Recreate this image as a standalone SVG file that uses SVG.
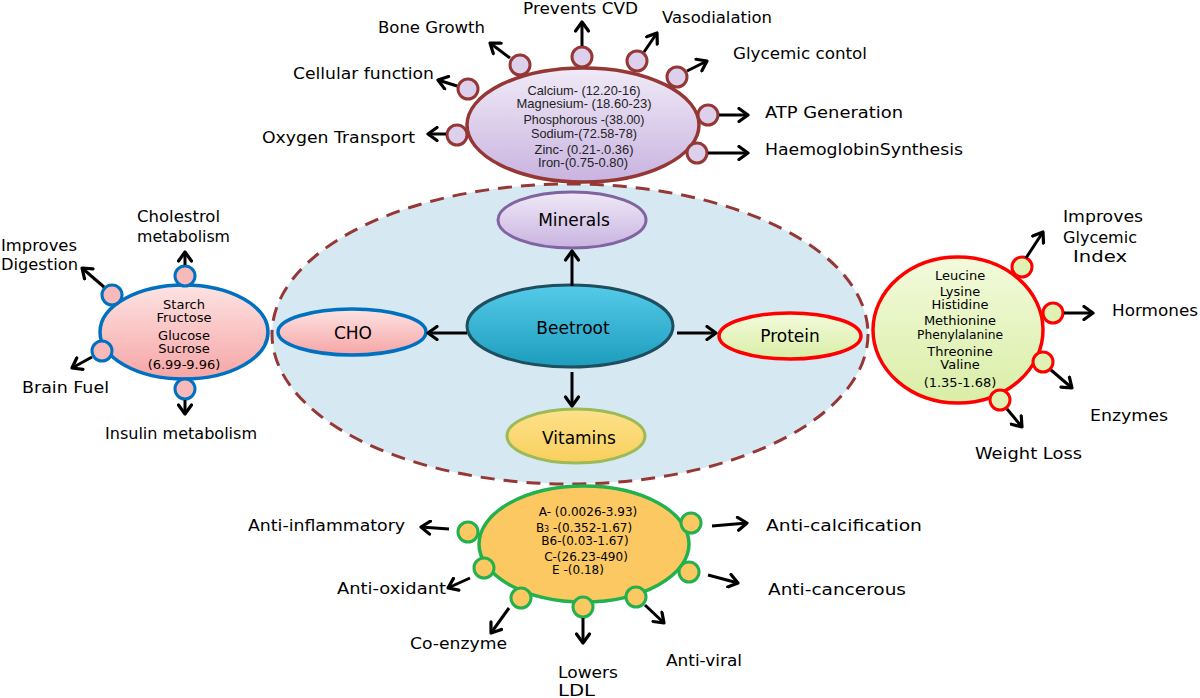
<svg xmlns="http://www.w3.org/2000/svg" width="1200" height="698" viewBox="0 0 1200 698">
<defs>
<marker id="ah" markerUnits="userSpaceOnUse" markerWidth="16" markerHeight="16" refX="11" refY="8" orient="auto"><path d="M2,1.5 L11,8 L2,14.5" fill="none" stroke="#000" stroke-width="3.2" stroke-linecap="round" stroke-linejoin="round"/></marker>
<linearGradient id="gMin" x1="0" y1="0" x2="0" y2="1"><stop offset="0" stop-color="#f0eaf7"/><stop offset="1" stop-color="#c9b3e0"/></linearGradient>
<linearGradient id="gCho" x1="0" y1="0" x2="0" y2="1"><stop offset="0" stop-color="#fde3e3"/><stop offset="1" stop-color="#f6a5a5"/></linearGradient>
<linearGradient id="gPro" x1="0" y1="0" x2="0" y2="1"><stop offset="0" stop-color="#f3fadc"/><stop offset="1" stop-color="#d9eea6"/></linearGradient>
<linearGradient id="gBeet" x1="0" y1="0" x2="0" y2="1"><stop offset="0" stop-color="#55cbe9"/><stop offset="1" stop-color="#1d9cbd"/></linearGradient>
<linearGradient id="gVit" x1="0" y1="0" x2="0" y2="1"><stop offset="0" stop-color="#fde28a"/><stop offset="1" stop-color="#f9cf5c"/></linearGradient>
</defs>
<style>
.lbl{font-family:"DejaVu Sans",sans-serif;font-size:16px;fill:#000}
.in{font-family:"DejaVu Sans",sans-serif;font-size:13px;fill:#000;text-anchor:middle}
.vt{font-family:"DejaVu Sans",sans-serif;font-size:12px;fill:#000;text-anchor:middle}
.mn{font-family:"Liberation Sans",sans-serif;font-size:13px;fill:#222;text-anchor:middle}
.nd{font-family:"DejaVu Sans",sans-serif;font-size:17px;fill:#000;text-anchor:middle}
.arr{stroke:#000;stroke-width:3;fill:none;marker-end:url(#ah)}
.cm{fill:#dcd0ec;stroke:#953735;stroke-width:3}
.cc{fill:#f7b9b9;stroke:#0070c0;stroke-width:3}
.cp{fill:#dff2b4;stroke:#ff0000;stroke-width:3}
.cv{fill:#fbc862;stroke:#22b14c;stroke-width:3}
</style>

<g id="outer">
<ellipse cx="570" cy="334" rx="298" ry="150" fill="#d6e8f2" stroke="#953735" stroke-width="3" stroke-dasharray="14 9"/>
</g>

<g id="minerals-detail">
<ellipse cx="583" cy="125" rx="116" ry="57" fill="url(#gMin)" stroke="#953735" stroke-width="3.5"/>
<text class="mn" x="584" y="95" textLength="113" lengthAdjust="spacingAndGlyphs">Calcium- (12.20-16)</text>
<text class="mn" x="584" y="108" textLength="135" lengthAdjust="spacingAndGlyphs">Magnesium- (18.60-23)</text>
<text class="mn" x="584" y="124" textLength="121" lengthAdjust="spacingAndGlyphs">Phosphorous -(38.00)</text>
<text class="mn" x="584" y="138" textLength="106" lengthAdjust="spacingAndGlyphs">Sodium-(72.58-78)</text>
<text class="mn" x="584" y="154" textLength="99" lengthAdjust="spacingAndGlyphs">Zinc- (0.21-.0.36)</text>
<text class="mn" x="583" y="167" textLength="90" lengthAdjust="spacingAndGlyphs">Iron-(0.75-0.80)</text>
<circle class="cm" cx="457" cy="135" r="10"/>
<circle class="cm" cx="468" cy="89" r="10"/>
<circle class="cm" cx="520" cy="65" r="10"/>
<circle class="cm" cx="582" cy="57" r="10"/>
<circle class="cm" cx="637" cy="61" r="10"/>
<circle class="cm" cx="677" cy="77" r="10"/>
<circle class="cm" cx="708" cy="115" r="10"/>
<circle class="cm" cx="697" cy="153" r="10"/>
</g>

<g id="cho-detail">
<ellipse cx="184" cy="332" rx="84" ry="47" fill="url(#gCho)" stroke="#0070c0" stroke-width="3.5"/>
<text class="in" x="184" y="309">Starch</text>
<text class="in" x="184" y="322">Fructose</text>
<text class="in" x="184" y="340">Glucose</text>
<text class="in" x="184" y="353">Sucrose</text>
<text class="in" x="184" y="369">(6.99-9.96)</text>
<circle class="cc" cx="112" cy="295" r="10"/>
<circle class="cc" cx="185" cy="276" r="10"/>
<circle class="cc" cx="102" cy="351" r="10"/>
<circle class="cc" cx="185" cy="389" r="10"/>
</g>

<g id="protein-detail">
<ellipse cx="958" cy="330" rx="85" ry="73" fill="url(#gPro)" stroke="#ff0000" stroke-width="3.5"/>
<text class="in" x="960" y="280">Leucine</text>
<text class="in" x="960" y="296">Lysine</text>
<text class="in" x="960" y="309">Histidine</text>
<text class="in" x="960" y="325">Methionine</text>
<text class="in" x="960" y="339" textLength="86" lengthAdjust="spacingAndGlyphs">Phenylalanine</text>
<text class="in" x="960" y="356">Threonine</text>
<text class="in" x="960" y="369">Valine</text>
<text class="in" x="960" y="387">(1.35-1.68)</text>
<circle class="cp" cx="1022" cy="267" r="10"/>
<circle class="cp" cx="1053" cy="313" r="10"/>
<circle class="cp" cx="1043" cy="362" r="10"/>
<circle class="cp" cx="1000" cy="400" r="10"/>
</g>

<g id="vitamins-detail">
<ellipse cx="584" cy="544" rx="105" ry="58" fill="#fbc862" stroke="#22b14c" stroke-width="3.5"/>
<text class="vt" x="588" y="516">A- (0.0026-3.93)</text>
<text class="vt" x="584" y="532">B<tspan font-size="8">3</tspan> -(0.352-1.67)</text>
<text class="vt" x="585" y="545">B6-(0.03-1.67)</text>
<text class="vt" x="586" y="561">C-(26.23-490)</text>
<text class="vt" x="578" y="574">E -(0.18)</text>
<circle class="cv" cx="468" cy="532" r="10"/>
<circle class="cv" cx="484" cy="568" r="10"/>
<circle class="cv" cx="521" cy="598" r="10"/>
<circle class="cv" cx="583" cy="607" r="10"/>
<circle class="cv" cx="636" cy="597" r="10"/>
<circle class="cv" cx="689" cy="572" r="10"/>
<circle class="cv" cx="691" cy="523" r="10"/>
</g>

<g id="minerals">
<ellipse cx="572" cy="220" rx="74" ry="28" fill="url(#gMin)" stroke="#8064a2" stroke-width="3"/>
<text class="nd" x="574" y="226">Minerals</text>
</g>
<g id="beetroot">
<ellipse cx="570" cy="326" rx="103" ry="41" fill="url(#gBeet)" stroke="#1f4e5f" stroke-width="3"/>
<text class="nd" x="573" y="334" font-size="19">Beetroot</text>
</g>
<g id="cho">
<ellipse cx="352" cy="332" rx="74" ry="23" fill="url(#gCho)" stroke="#0070c0" stroke-width="3.5"/>
<text class="nd" x="353" y="339">CHO</text>
</g>
<g id="protein">
<ellipse cx="790" cy="336" rx="71" ry="23" fill="url(#gPro)" stroke="#ff0000" stroke-width="3.5"/>
<text class="nd" x="790" y="342">Protein</text>
</g>
<g id="vitamins">
<ellipse cx="576" cy="436" rx="69" ry="27" fill="url(#gVit)" stroke="#9bbb59" stroke-width="3"/>
<text class="nd" x="579" y="444">Vitamins</text>
</g>

<g id="connectors">
<line class="arr" x1="572" y1="286" x2="572" y2="251"/>
<line class="arr" x1="467" y1="333" x2="428" y2="333"/>
<line class="arr" x1="677" y1="333" x2="716" y2="333"/>
<line class="arr" x1="572" y1="372" x2="572" y2="406"/>

<line class="arr" x1="446" y1="134" x2="428" y2="134"/>
<line class="arr" x1="457" y1="86" x2="438" y2="80"/>
<line class="arr" x1="510" y1="58" x2="490" y2="43"/>
<line class="arr" x1="582" y1="46" x2="582" y2="22"/>
<line class="arr" x1="644" y1="52" x2="657" y2="33"/>
<line class="arr" x1="687" y1="71" x2="707" y2="61"/>
<line class="arr" x1="719" y1="115" x2="748" y2="115"/>
<line class="arr" x1="708" y1="153" x2="748" y2="153"/>

<line class="arr" x1="104" y1="287" x2="82" y2="268"/>
<line class="arr" x1="185" y1="265" x2="185" y2="252"/>
<line class="arr" x1="92" y1="357" x2="72" y2="368"/>
<line class="arr" x1="185" y1="400" x2="185" y2="414"/>

<line class="arr" x1="1026" y1="258" x2="1043" y2="232"/>
<line class="arr" x1="1064" y1="313" x2="1093" y2="313"/>
<line class="arr" x1="1051" y1="370" x2="1072" y2="388"/>
<line class="arr" x1="1007" y1="409" x2="1022" y2="427"/>

<line class="arr" x1="449" y1="529" x2="421" y2="527"/>
<line class="arr" x1="470" y1="578" x2="448" y2="588"/>
<line class="arr" x1="509" y1="608" x2="491" y2="633"/>
<line class="arr" x1="583" y1="618" x2="583" y2="643"/>
<line class="arr" x1="645" y1="605" x2="664" y2="623"/>
<line class="arr" x1="708" y1="575" x2="738" y2="583"/>
<line class="arr" x1="712" y1="526" x2="747" y2="523"/>
</g>

<g id="labels">
<text class="lbl" x="523" y="14" textLength="115" lengthAdjust="spacingAndGlyphs">Prevents CVD</text>
<text class="lbl" x="378" y="33" textLength="107" lengthAdjust="spacingAndGlyphs">Bone Growth</text>
<text class="lbl" x="662" y="23" textLength="110" lengthAdjust="spacingAndGlyphs">Vasodialation</text>
<text class="lbl" x="733" y="59" textLength="134" lengthAdjust="spacingAndGlyphs">Glycemic contol</text>
<text class="lbl" x="293" y="79" textLength="141" lengthAdjust="spacingAndGlyphs">Cellular function</text>
<text class="lbl" x="765" y="118" textLength="138" lengthAdjust="spacingAndGlyphs">ATP Generation</text>
<text class="lbl" x="262" y="143" textLength="153" lengthAdjust="spacingAndGlyphs">Oxygen Transport</text>
<text class="lbl" x="765" y="155" textLength="198" lengthAdjust="spacingAndGlyphs">HaemoglobinSynthesis</text>

<text class="lbl" x="137" y="222" textLength="83" lengthAdjust="spacingAndGlyphs">Cholestrol</text>
<text class="lbl" x="137" y="242" textLength="93" lengthAdjust="spacingAndGlyphs">metabolism</text>
<text class="lbl" x="1" y="251" textLength="76" lengthAdjust="spacingAndGlyphs">Improves</text>
<text class="lbl" x="1" y="270" textLength="77" lengthAdjust="spacingAndGlyphs">Digestion</text>
<text class="lbl" x="22" y="393" textLength="87" lengthAdjust="spacingAndGlyphs">Brain Fuel</text>
<text class="lbl" x="105" y="439" textLength="152" lengthAdjust="spacingAndGlyphs">Insulin metabolism</text>

<text class="lbl" x="1063" y="222" textLength="80" lengthAdjust="spacingAndGlyphs">Improves</text>
<text class="lbl" x="1063" y="243" textLength="74" lengthAdjust="spacingAndGlyphs">Glycemic</text>
<text class="lbl" x="1073" y="262" textLength="54" lengthAdjust="spacingAndGlyphs">Index</text>
<text class="lbl" x="1112" y="316" textLength="86" lengthAdjust="spacingAndGlyphs">Hormones</text>
<text class="lbl" x="1090" y="421" textLength="78" lengthAdjust="spacingAndGlyphs">Enzymes</text>
<text class="lbl" x="975" y="459" textLength="107" lengthAdjust="spacingAndGlyphs">Weight Loss</text>

<text class="lbl" x="248" y="531" textLength="157" lengthAdjust="spacingAndGlyphs">Anti-inflammatory</text>
<text class="lbl" x="337" y="594" textLength="109" lengthAdjust="spacingAndGlyphs">Anti-oxidant</text>
<text class="lbl" x="410" y="649" textLength="97" lengthAdjust="spacingAndGlyphs">Co-enzyme</text>
<text class="lbl" x="558" y="678" textLength="60" lengthAdjust="spacingAndGlyphs">Lowers</text>
<text class="lbl" x="558" y="696" textLength="37" lengthAdjust="spacingAndGlyphs">LDL</text>
<text class="lbl" x="666" y="666" textLength="76" lengthAdjust="spacingAndGlyphs">Anti-viral</text>
<text class="lbl" x="768" y="595" textLength="138" lengthAdjust="spacingAndGlyphs">Anti-cancerous</text>
<text class="lbl" x="766" y="531" textLength="156" lengthAdjust="spacingAndGlyphs">Anti-calcification</text>
</g>
</svg>
